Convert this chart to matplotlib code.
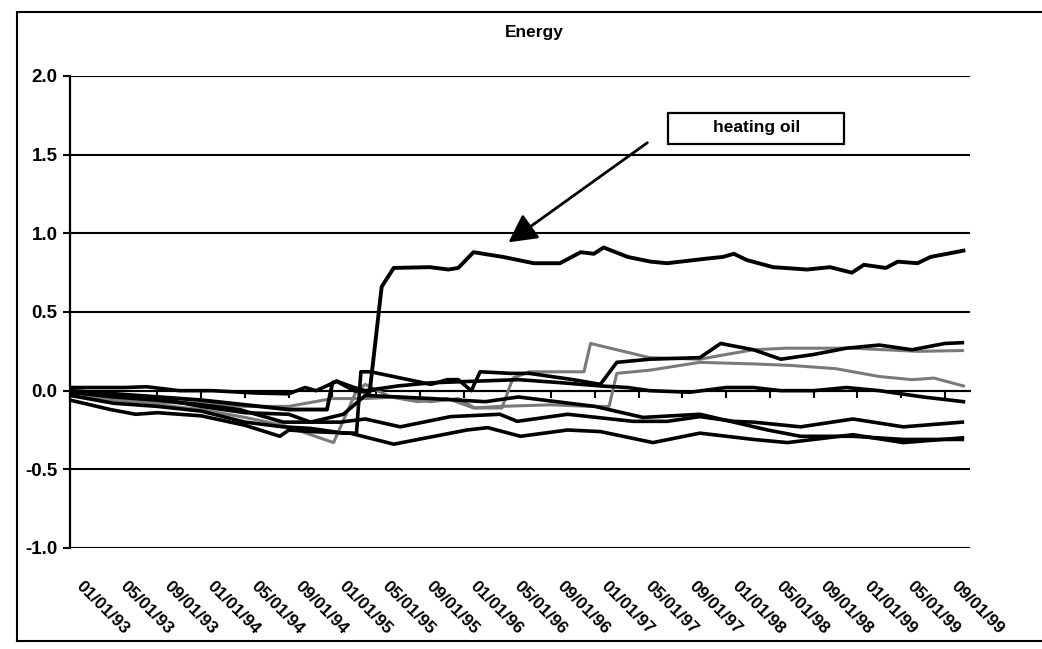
import matplotlib
matplotlib.use("Agg")
import matplotlib.pyplot as plt
import matplotlib.transforms as mtransforms
from matplotlib.patches import Rectangle
from matplotlib.lines import Line2D

plt.rcParams['font.family'] = ['Liberation Sans', 'DejaVu Sans']

# x = months since 01/01/93
tick_months = list(range(0, 81, 4))
tick_labels = ["01/01/93", "05/01/93", "09/01/93", "01/01/94", "05/01/94", "09/01/94",
               "01/01/95", "05/01/95", "09/01/95", "01/01/96", "05/01/96", "09/01/96",
               "01/01/97", "05/01/97", "09/01/97", "01/01/98", "05/01/98", "09/01/98",
               "01/01/99", "05/01/99", "09/01/99"]

heating_oil_m = [0, 4, 8, 12, 16, 20, 23.5, 24, 24.4, 26, 27.4, 28.5, 29.6, 32.9, 34.6, 35.5,
                 36.9, 39.6, 42.4, 44.8, 46.7, 47.9, 48.8, 51, 53.1, 54.6, 58.3, 59.7, 60.7,
                 61.9, 64.3, 67.4, 69.5, 71.5, 72.6, 74.6, 75.7, 77.5, 78.7, 81.7]
heating_oil_v = [0.0, -0.02, -0.04, -0.06, -0.09, -0.12, -0.12, 0.05, 0.06, 0.0, -0.01, 0.66,
                 0.78, 0.785, 0.77, 0.78, 0.88, 0.85, 0.81, 0.81, 0.88, 0.87, 0.91, 0.85, 0.82,
                 0.81, 0.84, 0.85, 0.87, 0.83, 0.785, 0.77, 0.785, 0.75, 0.80, 0.78, 0.82, 0.81,
                 0.85, 0.89]

s_top_m = [0, 4, 8, 12, 16, 19.5, 22, 25, 26.2, 26.6, 27.5, 33, 34.5, 35.5, 36.7, 37.5, 40.3,
           42, 46, 48.5, 50, 53, 57.6, 59.5, 62.5, 65, 68, 71, 74, 77, 80, 81.6]
s_top_v = [-0.03, -0.08, -0.10, -0.13, -0.20, -0.23, -0.24, -0.27, -0.27, 0.12, 0.12, 0.04,
           0.07, 0.07, 0.0, 0.12, 0.11, 0.11, 0.07, 0.04, 0.18, 0.20, 0.21, 0.30, 0.26, 0.20,
           0.23, 0.27, 0.29, 0.26, 0.30, 0.305]

s_near0_m = [0, 5, 7, 10, 13, 17, 20, 21.5, 22.5, 24.4, 26, 27, 30, 33, 37, 41, 45, 48.5, 51,
             53, 56.7, 60, 62.5, 65, 68, 71, 74, 78, 81.7]
s_near0_v = [0.02, 0.02, 0.025, 0.0, 0.0, -0.015, -0.02, 0.02, 0.0, 0.06, 0.02, 0.0, 0.03,
             0.05, 0.06, 0.07, 0.05, 0.03, 0.02, 0.0, -0.01, 0.02, 0.02, 0.0, 0.0, 0.02, 0.0,
             -0.04, -0.07]

s_mid_m = [0, 4, 8, 12, 15.5, 19.5, 24.7, 27, 30.2, 34.8, 39.3, 40.9, 45.5, 51.5, 54.6, 57.6,
           60.7, 62.5, 66.8, 71.6, 76.2, 81.6]
s_mid_v = [-0.01, -0.04, -0.06, -0.09, -0.12, -0.20, -0.20, -0.18, -0.23, -0.165, -0.15,
           -0.195, -0.15, -0.195, -0.195, -0.165, -0.195, -0.20, -0.23, -0.18, -0.23, -0.20]

s_low_m = [0, 3.7, 6, 8, 12, 16, 19.2, 20, 22, 25.6, 29.6, 36.3, 38.2, 41.2, 45.5, 48.5, 53.3,
           57.6, 62.5, 65.6, 71.6, 76.2, 81.6]
s_low_v = [-0.06, -0.12, -0.15, -0.14, -0.16, -0.22, -0.29, -0.25, -0.26, -0.27, -0.34,
           -0.25, -0.235, -0.29, -0.25, -0.26, -0.33, -0.27, -0.31, -0.33, -0.28, -0.33, -0.30]

s_low2_m = [0, 4, 8, 12, 16, 20, 22, 25, 27, 33, 38, 41, 48, 52.4, 57.6, 63.8, 66.8, 71.6,
            76.2, 81.6]
s_low2_v = [-0.01, -0.03, -0.05, -0.10, -0.14, -0.15, -0.20, -0.15, -0.03, -0.05, -0.07,
            -0.04, -0.10, -0.17, -0.15, -0.25, -0.29, -0.29, -0.31, -0.31]

g_a_m = [0, 4, 8, 12, 16, 19.5, 22, 24.1, 26.2, 27, 29.3, 31.8, 34.5, 36.9, 39.3, 44, 47.5,
         49.3, 50, 53, 57.6, 62.5, 66, 70, 74, 77, 79, 81.7]
g_a_v = [-0.03, -0.06, -0.09, -0.12, -0.17, -0.22, -0.28, -0.33, 0.0, 0.04, -0.04, -0.07,
         -0.05, -0.11, -0.10, -0.09, -0.10, -0.10, 0.11, 0.13, 0.18, 0.17, 0.16, 0.14, 0.09,
         0.07, 0.08, 0.03]

g_b_m = [0, 5, 8, 12, 16, 20, 24, 27, 30, 33, 35.5, 37, 39.5, 40.5, 42, 47, 47.6, 53, 57.6,
         60, 62.5, 65.5, 68.5, 71.5, 74.5, 77.5, 81.6]
g_b_v = [-0.025, -0.057, -0.076, -0.08, -0.10, -0.10, -0.05, -0.05, -0.04, -0.07, -0.05,
         -0.11, -0.11, 0.08, 0.12, 0.12, 0.30, 0.21, 0.20, 0.23, 0.26, 0.27, 0.27, 0.27, 0.26,
         0.25, 0.255]

W, H = 1042, 649
fig = plt.figure(figsize=(W / 100, H / 100), dpi=100)
ax = fig.add_axes([70 / W, 1 - 548 / H, 900 / W, 472 / H])

black_series = [(s_mid_m, s_mid_v), (s_low_m, s_low_v), (s_low2_m, s_low2_v),
                (s_near0_m, s_near0_v), (s_top_m, s_top_v)]
gray_series = [(g_a_m, g_a_v), (g_b_m, g_b_v)]

for m, v in gray_series:
    ax.plot(m, v, color='#7a7a7a', lw=2.2, zorder=3)
for m, v in black_series:
    ax.plot(m, v, color='black', lw=2.6, zorder=4)
ax.plot(heating_oil_m, heating_oil_v, color='black', lw=2.8, zorder=5)

ax.set_xlim(0, 82.3)
ax.set_ylim(-1.0, 2.0)
ax.set_yticks([-1.0, -0.5, 0.0, 0.5, 1.0, 1.5, 2.0])
ax.set_yticklabels(["-1.0", "-0.5", "0.0", "0.5", "1.0", "1.5", "2.0"])
ax.yaxis.grid(True, color='black', lw=1.5)
ax.set_axisbelow(True)
for s in ['top', 'right', 'bottom']:
    ax.spines[s].set_visible(False)
ax.spines['left'].set_linewidth(1.6)
ax.tick_params(axis='y', direction='out', length=5, width=1.5, labelsize=13.5, pad=4)
for t in ax.get_yticklabels():
    t.set_fontweight('bold')

ax.set_xticks(tick_months)
ax.set_xticklabels(tick_labels, rotation=-45, ha='left', va='top',
                   rotation_mode='anchor', fontsize=12.5, fontweight='bold')
ax.tick_params(axis='x', length=0, pad=22)
shift = mtransforms.ScaledTranslation(14 / 100, 0, fig.dpi_scale_trans)
for t in ax.get_xticklabels():
    t.set_transform(t.get_transform() + shift)

# category axis crossing at zero, with tick marks
sec = ax.secondary_xaxis(1 / 3)
sec.set_xticks(tick_months)
sec.xaxis.set_ticks_position('bottom')
sec.tick_params(axis='x', direction='out', length=5, width=1.5,
                labelbottom=False, labeltop=False)
sec.spines['bottom'].set_linewidth(1.5)
sec.spines['top'].set_linewidth(1.5)

# annotation
ax.add_patch(Rectangle((54.7, 1.57), 16.1, 0.196, fill=True, fc='white', ec='black',
                       lw=1.6, zorder=6))
ax.text(62.8, 1.67, "heating oil", ha='center', va='center', fontsize=12.5,
        fontweight='bold', zorder=7)
ax.annotate('', xy=(40.1, 0.943), xytext=(52.8, 1.576),
            arrowprops=dict(arrowstyle='-|>,head_length=1.7,head_width=0.9',
                            mutation_scale=10, color='black', lw=2.0,
                            shrinkA=0, shrinkB=0), zorder=7)

fig.text(534 / W, 1 - 33 / H, "Energy", ha='center', va='center', fontsize=12.5,
         fontweight='bold')

# chart-area border (left, top, bottom)
x0, x1 = 17 / W, 1041 / W
y0, y1 = 1 - 641 / H, 1 - 12 / H
for xs, ys in [([x0, x0], [y0, y1]), ([x0, x1], [y1, y1]), ([x0, x1], [y0, y0])]:
    fig.add_artist(Line2D(xs, ys, color='black', lw=1.5, transform=fig.transFigure))

fig.savefig("out.png", dpi=100)
